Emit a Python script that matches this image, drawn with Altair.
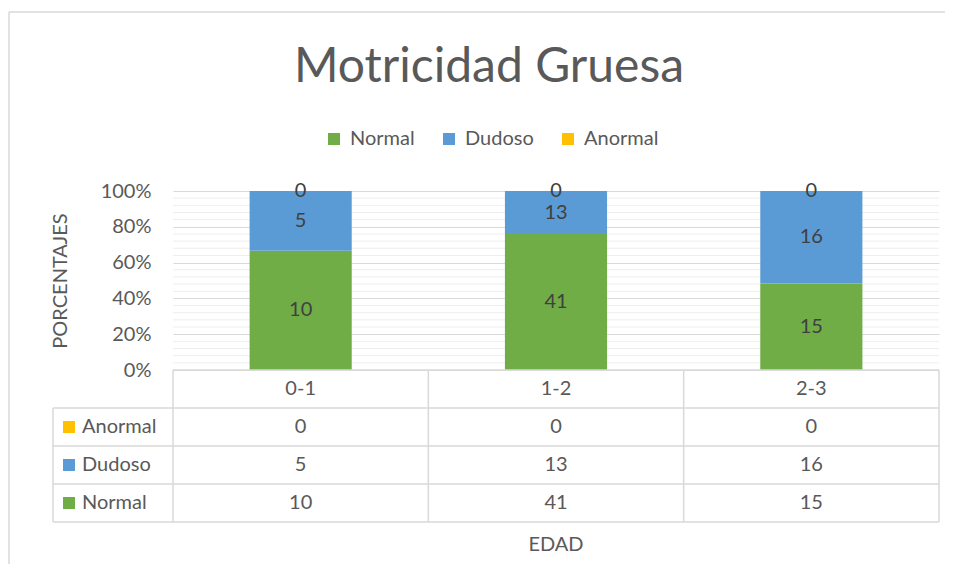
import altair as alt
import pandas as pd

# ---- data ----
categories = ["0-1", "1-2", "2-3"]
series = ["Normal", "Dudoso", "Anormal"]
normal = [10, 41, 15]
dudoso = [5, 13, 16]
anormal = [0, 0, 0]
colors = ["#70AD47", "#5B9BD5", "#FFC000"]
table_rows = ["Anormal", "Dudoso", "Normal"]  # top to bottom in data table
major_ticks = [0, 0.2, 0.4, 0.6, 0.8, 1.0]
minor_ticks = [0.04, 0.08, 0.12, 0.16, 0.24, 0.28, 0.32, 0.36,
               0.44, 0.48, 0.52, 0.56, 0.64, 0.68, 0.72, 0.76,
               0.84, 0.88, 0.92, 0.96]

FONT = "Lato"
TXT = "#595959"
GRID = "#d9d9d9"

values = {"Normal": normal, "Dudoso": dudoso, "Anormal": anormal}
rows = []
for s_i, s in enumerate(series):
    for c_i, c in enumerate(categories):
        rows.append({"cat": c, "cat_i": c_i, "series": s, "order": s_i,
                     "value": values[s][c_i],
                     "row": table_rows.index(s) + 1})
df = pd.DataFrame(rows)

W, H = 766, 179
TW, TH = 766, 152

color_scale = alt.Scale(domain=series, range=colors)
one = pd.DataFrame({"a": [0]})
yscale = alt.Scale(domain=[0, 1], nice=False)
yaxis = alt.Axis(
    values=major_ticks, format=".0%",
    title="PORCENTAJES", titleFontSize=20, titleFontWeight="normal",
    titleColor=TXT, titleFont=FONT, titlePadding=30,
    labelFont=FONT, labelFontSize=20, labelColor=TXT, labelPadding=22,
    ticks=False, domain=False, gridColor=GRID, grid=True,
)

# ---- top chart: stacked 100% bars ----
base = alt.Chart(df).transform_stack(
    stack="value", groupby=["cat"], as_=["y0", "y1"], offset="normalize",
    sort=[alt.SortField("order", "ascending")]
).transform_calculate(mid="(datum.y0 + datum.y1) / 2")

xband = alt.X("cat:N", sort=categories, axis=None,
              scale=alt.Scale(paddingInner=0.6, paddingOuter=0.3))

minor = alt.Chart(pd.DataFrame({"t": minor_ticks})).mark_rule(
    color="#eeeeee", strokeWidth=1).encode(
    x=alt.value(0), x2=alt.value(W),
    y=alt.Y("t:Q", scale=yscale, axis=yaxis))

bars = base.mark_bar().encode(
    x=xband,
    y=alt.Y("y0:Q", scale=yscale, axis=yaxis),
    y2="y1:Q",
    color=alt.Color("series:N", scale=color_scale, sort=series,
                    legend=alt.Legend(orient="none", direction="horizontal",
                                      legendX=151, legendY=-62, title=None,
                                      symbolType="square", symbolSize=144,
                                      symbolStrokeWidth=0,
                                      labelFont=FONT, labelFontSize=20,
                                      labelColor=TXT, labelOffset=6,
                                      columnPadding=24)),
)

bar_text = base.mark_text(font=FONT, fontSize=20, color="#404040",
                          baseline="middle").encode(
    x=xband,
    y=alt.Y("mid:Q", scale=yscale, axis=yaxis),
    text="value:Q",
)

title = alt.Chart(one).mark_text(text="Motricidad Gruesa", font=FONT,
                                 fontSize=48, color=TXT,
                                 baseline="middle", align="center").encode(
    x=alt.value(316), y=alt.value(-123))

frame_top = alt.Chart(one).mark_rule(color=GRID, strokeWidth=1.5).encode(
    x=alt.value(-164), x2=alt.value(772), y=alt.value(-179))
frame_left_top = alt.Chart(one).mark_rule(color=GRID, strokeWidth=1.5).encode(
    x=alt.value(-164), y=alt.value(-179), y2=alt.value(H))

top = alt.layer(minor, bars, bar_text, frame_top, frame_left_top, title).properties(
    width=W, height=H)

# ---- bottom chart: data table ----
hdr = pd.DataFrame({"cat": categories, "cx": [i + 0.5 for i in range(3)], "cy": [0.5] * 3})
df_t = df.assign(cx=df["cat_i"] + 0.5, cy=df["row"] + 0.5)
row_df = pd.DataFrame({"series": table_rows, "cy": [i + 1.5 for i in range(3)]})
hlines = pd.DataFrame({"ly": [1, 2, 3, 4]})
vlines = pd.DataFrame({"lx": [0, 1, 2, 3], "y0": [0] * 4, "y1": [4] * 4})
top_line = pd.DataFrame({"x0": [0], "x1": [3], "ly": [0]})
left_line = pd.DataFrame({"y0": [1], "y1": [4]})

xs = alt.Scale(domain=[0, 3], nice=False, zero=False)
ys = alt.Scale(domain=[0, 4], nice=False, reverse=True)

t_hline0 = alt.Chart(top_line).mark_rule(color=GRID, strokeWidth=1.5).encode(
    x=alt.X("x0:Q", scale=xs, axis=None), x2="x1:Q",
    y=alt.Y("ly:Q", scale=ys, axis=None))
t_hlines = alt.Chart(hlines).mark_rule(color=GRID, strokeWidth=1.5).encode(
    x=alt.value(-120), x2=alt.value(TW),
    y=alt.Y("ly:Q", scale=ys, axis=None))
t_vlines = alt.Chart(vlines).mark_rule(color=GRID, strokeWidth=1.5).encode(
    x=alt.X("lx:Q", scale=xs, axis=None),
    y=alt.Y("y0:Q", scale=ys, axis=None), y2="y1:Q")
t_left = alt.Chart(left_line).mark_rule(color=GRID, strokeWidth=1.5).encode(
    x=alt.value(-120), y=alt.Y("y0:Q", scale=ys, axis=None), y2="y1:Q")

t_hdr = alt.Chart(hdr).mark_text(font=FONT, fontSize=20, color=TXT).encode(
    x=alt.X("cx:Q", scale=xs, axis=None),
    y=alt.Y("cy:Q", scale=ys, axis=None), text="cat:N")
t_vals = alt.Chart(df_t).mark_text(font=FONT, fontSize=20, color=TXT).encode(
    x=alt.X("cx:Q", scale=xs, axis=None),
    y=alt.Y("cy:Q", scale=ys, axis=None), text="value:Q")
t_sq = alt.Chart(row_df).mark_point(shape="square", filled=True, size=144,
                                    opacity=1).encode(
    x=alt.value(-104),
    y=alt.Y("cy:Q", scale=ys, axis=None),
    color=alt.Color("series:N", scale=color_scale, legend=None))
t_lab = alt.Chart(row_df).mark_text(font=FONT, fontSize=20, color=TXT,
                                    align="left").encode(
    x=alt.value(-91),
    y=alt.Y("cy:Q", scale=ys, axis=None), text="series:N")
t_edad = alt.Chart(one).mark_text(text="EDAD", font=FONT, fontSize=20,
                                  color=TXT).encode(
    x=alt.value(383), y=alt.value(175))
frame_left_bot = alt.Chart(one).mark_rule(color=GRID, strokeWidth=1.5).encode(
    x=alt.value(-164), y=alt.value(0), y2=alt.value(194))

bottom = alt.layer(frame_left_bot, t_hline0, t_hlines, t_vlines, t_left,
                   t_hdr, t_vals, t_sq, t_lab, t_edad).properties(
    width=TW, height=TH)

chart = alt.vconcat(top, bottom, spacing=0, bounds="flush").resolve_scale(
    x="independent", y="independent", color="independent"
).properties(
    padding={"left": 0, "top": 3, "right": 0, "bottom": 0},
    background="white",
).configure_view(stroke=None)

chart.save("out.html", embed_options={"renderer": "svg", "actions": False})
